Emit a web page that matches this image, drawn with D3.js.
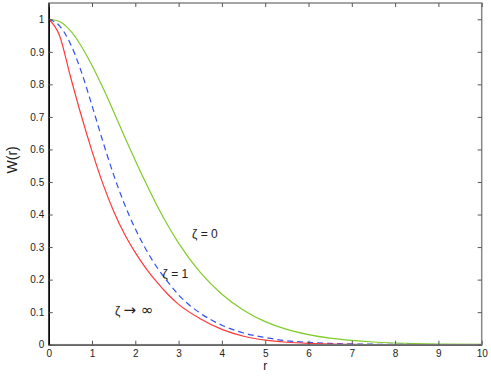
<!DOCTYPE html>
<html>
<head>
<meta charset="utf-8">
<script src="https://cdn.jsdelivr.net/npm/d3@7"></script>
<style>
  body { margin: 0; background: #fff; }
  text { font-family: "Liberation Sans", Arial, sans-serif; fill: #222; }
</style>
</head>
<body>
<div id="grafica"></div>
<script>
// W(r) curves

const rValues = [0, 0.25, 0.5, 0.75, 1, 1.25, 1.5, 1.75, 2, 2.25, 2.5, 2.75, 3, 3.5, 4, 4.5, 5, 5.5, 6, 6.5, 7, 7.5, 8, 9, 10]
const wZeta0 = [1, 0.993, 0.965, 0.918, 0.858, 0.79, 0.716, 0.64, 0.566, 0.495, 0.428, 0.367, 0.312, 0.222, 0.155, 0.106, 0.071, 0.047, 0.031, 0.02, 0.013, 0.0083, 0.0053, 0.002, 0.0008]
const wZeta1 = [1, 0.98, 0.925, 0.84, 0.735, 0.625, 0.522, 0.432, 0.356, 0.292, 0.238, 0.193, 0.153, 0.097, 0.06, 0.036, 0.022, 0.012, 0.007, 0.004, 0.0025, 0.0015, 0.001, 0.0003, 0]
const wZetaInf = [1, 0.95, 0.825, 0.705, 0.595, 0.495, 0.41, 0.34, 0.283, 0.234, 0.192, 0.155, 0.124, 0.08, 0.047, 0.026, 0.014, 0.0075, 0.004, 0.002, 0.001, 0.0005, 0.0003, 0.0001, 0]

const xTicks = [0, 1, 2, 3, 4, 5, 6, 7, 8, 9, 10]
const yTicks = [0, 0.1, 0.2, 0.3, 0.4, 0.5, 0.6, 0.7, 0.8, 0.9, 1]

const series = [
    { name: "ζ = 0", values: wZeta0, color: "#80cc28", dash: null, label: [3.31, 0.328] },
    { name: "ζ = 1", values: wZeta1, color: "#3050f0", dash: "6,4", label: [2.63, 0.205] },
    { name: "ζ → ∞", values: wZetaInf, color: "#ff3a3a", dash: null, label: [1.53, 0.091] }
]

let width = 491
let height = 383
let padLeft = 48.7, padRight = 481.7, padTop = 3, padBottom = 344.7

const xScale = d3.scaleLinear().domain([0, 10]).range([padLeft, padRight])
const yScale = d3.scaleLinear().domain([0, 1.05]).range([padBottom, padTop])

const svg = d3.select('#grafica')
    .append("svg")
    .attr("width", width)
    .attr("height", height)

// curves
const line = d3.line()
    .x((d, i) => xScale(rValues[i]))
    .y(d => yScale(d))
    .curve(d3.curveMonotoneX)

series.forEach(s => {
    svg.append("path")
        .attr("d", line(s.values))
        .attr("fill", "none")
        .attr("stroke", s.color)
        .attr("stroke-width", 1.2)
        .attr("stroke-dasharray", s.dash)
})

// box
svg.append("rect")
    .attr("x", padLeft).attr("y", padTop)
    .attr("width", padRight - padLeft).attr("height", padBottom - padTop)
    .attr("fill", "none")
    .attr("stroke", "#888")
    .attr("stroke-width", 1.5)

// axes with inward ticks
const xAxis = d3.axisBottom(xScale).tickValues(xTicks).tickSizeInner(-4).tickSizeOuter(0).tickPadding(5.5).tickFormat(d3.format("d"))
const yAxis = d3.axisLeft(yScale).tickValues(yTicks).tickSizeInner(-4).tickSizeOuter(0).tickPadding(4.5).tickFormat(d => d === 0 ? "0" : d === 1 ? "1" : d3.format(".1f")(d))

const gx = svg.append("g")
    .attr("transform", "translate(0," + padBottom + ")")
    .call(xAxis)
gx.select(".domain").attr("stroke", "#666").attr("stroke-width", 1.5)
gx.selectAll(".tick line").attr("stroke", "#555")
gx.selectAll("text").attr("font-size", 10).attr("font-family", "Liberation Sans, Arial, sans-serif")

const gy = svg.append("g")
    .attr("transform", "translate(" + padLeft + ",0)")
    .call(yAxis)
gy.select(".domain").attr("stroke", "#000").attr("stroke-width", 1.5)
gy.selectAll(".tick line").attr("stroke", "#555")
gy.selectAll("text").attr("font-size", 10).attr("font-family", "Liberation Sans, Arial, sans-serif")

// mirrored ticks on top and right
svg.append("g")
    .attr("transform", "translate(0," + padTop + ")")
    .call(d3.axisTop(xScale).tickValues(xTicks).tickSizeInner(-4).tickSizeOuter(0).tickFormat(""))
    .call(g => g.select(".domain").remove())
    .selectAll("line").attr("stroke", "#555")

svg.append("g")
    .attr("transform", "translate(" + padRight + ",0)")
    .call(d3.axisRight(yScale).tickValues(yTicks).tickSizeInner(-4).tickSizeOuter(0).tickFormat(""))
    .call(g => g.select(".domain").remove())
    .selectAll("line").attr("stroke", "#555")

// labels
svg.append("text")
    .attr("text-anchor", "middle")
    .attr("x", xScale(5))
    .attr("y", 370)
    .attr("font-size", 12)
    .text("r")

svg.append("text")
    .attr("text-anchor", "middle")
    .attr("transform", "translate(17," + yScale(0.568) + ") rotate(-90)")
    .attr("font-size", 14)
    .text("W(r)")

series.forEach(s => {
    const t = svg.append("text")
        .attr("x", xScale(s.label[0]))
        .attr("y", yScale(s.label[1]))
        .attr("font-size", 12)
    const parts = s.name.split(" ")
    t.append("tspan").text(parts[0] + " ")
    if (parts[1] === "→") {
        t.append("tspan")
            .attr("font-family", "DejaVu Sans")
            .attr("font-size", 15)
            .text(parts.slice(1).join(" "))
    } else {
        t.append("tspan").text(parts.slice(1).join(" "))
    }
})
</script>
</body>
</html>
